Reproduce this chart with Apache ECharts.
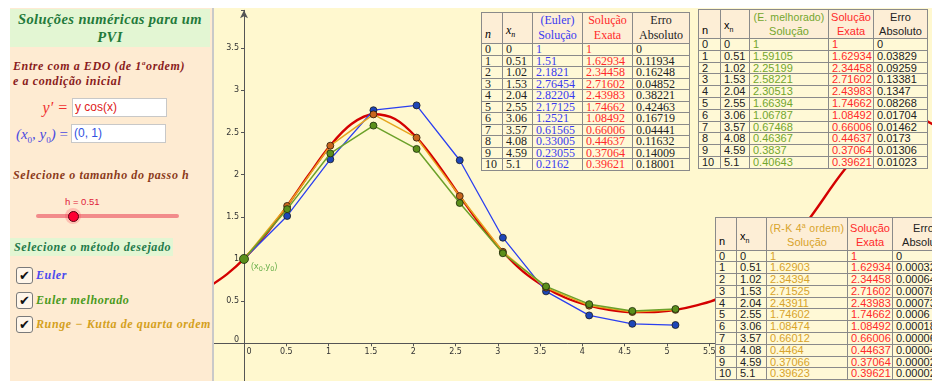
<!DOCTYPE html>
<html>
<head>
<meta charset="utf-8">
<script src="https://cdn.jsdelivr.net/npm/echarts@6/dist/echarts.min.js"></script>
<style>
  body { margin: 0; width: 932px; height: 381px; overflow: hidden; position: relative; background: #fff; }
  #chart { position: absolute; left: 0; top: 0; width: 932px; height: 381px; }
  .abs { position: absolute; white-space: nowrap; }
  .serif { font-family: 'Liberation Serif', 'DejaVu Serif', serif; }
  .sans { font-family: 'Liberation Sans', Arial, sans-serif; }
  .bi { font-weight: bold; font-style: italic; }
  .box { position: absolute; background: #fff; border: 1px solid #c8c8c8; box-sizing: border-box;
         font-family: 'Liberation Sans', Arial, sans-serif; font-size: 12px; line-height: 17px; padding-left: 2px; }
  .chk { position: absolute; left: 16px; width: 17px; height: 17px; box-sizing: border-box; border: 1.5px solid #7a7a7a;
         border-radius: 3px; background: #fff6ea; font-family: 'DejaVu Sans', sans-serif; font-size: 13px; line-height: 15px;
         text-align: center; color: #111; font-weight: bold; }
  table.tb { position: absolute; border-collapse: collapse; table-layout: fixed; background: #fff9d6; }
  table.tb td { border: 1px solid #8a8a8a; padding: 0 0 0 3px; white-space: nowrap; overflow: hidden; box-sizing: border-box; }
  table.tb tr.hd td { background: #fdeed6; vertical-align: bottom; }
  table.tb td.c { text-align: center; padding: 0; }
</style>
</head>
<body>
<div id="chart"></div>

<!-- painel esquerdo -->
<div class="abs" style="left:0;top:0;width:10px;height:381px;background:#fff;"></div>
<div class="abs" style="left:0;top:0;width:932px;height:8px;background:#fff;"></div>
<div class="abs" style="left:10px;top:8px;width:202px;height:373px;background:#feebd2;"></div>
<div class="abs" style="left:212px;top:8px;width:2px;height:373px;background:#c9c9c9;"></div>

<div class="abs serif bi" style="left:10px;top:9px;width:200px;height:38px;background:#e3f6d3;color:#237a3b;font-size:14.5px;line-height:18px;text-align:center;padding-top:1px;box-sizing:border-box;letter-spacing:0.4px;">Soluções numéricas para um<br>PVI</div>

<div class="abs serif bi" style="left:13px;top:56px;color:#8a1c1c;font-size:12px;line-height:15px;letter-spacing:0.6px;">Entre com a EDO (de 1<sup style="font-size:7px;">a</sup>ordem)<br>e a condição inicial</div>

<div class="abs serif" style="left:0;top:99px;width:68px;text-align:right;color:#f03030;font-size:16px;font-style:italic;">y′ =</div>
<div class="box" style="left:72px;top:98px;width:95px;height:19px;color:#e02020;">y cos(x)</div>
<div class="abs serif" style="left:0;top:126px;width:68px;text-align:right;color:#4a4ae0;font-size:15px;"><i>(x</i><sub style="font-size:9px;">0</sub><i>, y</i><sub style="font-size:9px;">0</sub><i>)</i> =</div>
<div class="box" style="left:71px;top:124px;width:95px;height:19px;color:#3050e0;">(0, 1)</div>

<div class="abs serif bi" style="left:13px;top:168px;color:#8b3a1a;font-size:12px;letter-spacing:0.6px;">Selecione o tamanho do passo h</div>
<div class="abs sans" style="left:65px;top:196px;color:#e0203a;font-size:9.5px;">h = 0.51</div>
<div class="abs" style="left:36px;top:214px;width:143px;height:3.5px;background:#f28b8b;border-radius:2px;"></div>
<div class="abs" style="left:65px;top:208px;width:16px;height:16px;border-radius:8px;background:rgba(255,60,80,0.25);"></div>
<div class="abs" style="left:67.5px;top:210.5px;width:11px;height:11px;box-sizing:border-box;border-radius:6px;background:#ff0033;border:1px solid #5a0010;"></div>

<div class="abs serif bi" style="left:10px;top:238px;width:163px;height:18px;background:#e3f6d3;color:#1f7a4a;font-size:12px;line-height:18px;padding-left:4px;box-sizing:border-box;letter-spacing:0.6px;">Selecione o método desejado</div>

<div class="chk" style="top:267px;">✔</div>
<div class="chk" style="top:292px;">✔</div>
<div class="chk" style="top:316px;">✔</div>
<div class="abs serif bi" style="left:36px;top:268px;color:#4a4aee;font-size:12px;letter-spacing:0.6px;">Euler</div>
<div class="abs serif bi" style="left:36px;top:293px;color:#4a9a20;font-size:12px;letter-spacing:0.6px;">Euler melhorado</div>
<div class="abs serif bi" style="left:36px;top:317px;width:176px;overflow:hidden;color:#d4a020;font-size:12px;letter-spacing:0.6px;">Runge − Kutta de quarta ordem</div>

<div id="tabelas"></div>

<script>
// passos x_n
const xs = [0, 0.51, 1.02, 1.53, 2.04, 2.55, 3.06, 3.57, 4.08, 4.59, 5.1];
// soluções numéricas
const euler = [1, 1.51, 2.1821, 2.76454, 2.82204, 2.17125, 1.2521, 0.61565, 0.33005, 0.23055, 0.2162];
const eulerMelhorado = [1, 1.59105, 2.25199, 2.58221, 2.30513, 1.66394, 1.06787, 0.67468, 0.46367, 0.3837, 0.40643];
const rungeKutta = [1, 1.62903, 2.34394, 2.71525, 2.43911, 1.74602, 1.08474, 0.66012, 0.4464, 0.37066, 0.39623];
const exata = [1, 1.62934, 2.34458, 2.71602, 2.43983, 1.74662, 1.08492, 0.66006, 0.44637, 0.37064, 0.39621];
// erros absolutos
const erroEuler = [0, 0.11934, 0.16248, 0.04852, 0.38221, 0.42463, 0.16719, 0.04441, 0.11632, 0.14009, 0.18001];
const erroMelhorado = [0, 0.03829, 0.09259, 0.13381, 0.1347, 0.08268, 0.01704, 0.01462, 0.0173, 0.01306, 0.01023];
const erroRK = [0, 0.00032, 0.00064, 0.00078, 0.00073, 0.0006, 0.00018, 0.00006, 0.00004, 0.00002, 0.00002];
const curvaX = [-0.4, -0.2, 0.25, 0.76, 1.27, 1.785, 2.3, 2.8, 3.3, 3.8, 4.3, 4.85, 5.35, 5.6, 6.1, 6.6, 7.1, 7.6, 7.85, 8.2];
const curvaY = [0.68, 0.82, 1.28, 1.99, 2.6, 2.66, 2.11, 1.4, 0.85, 0.54, 0.4, 0.37, 0.45, 0.53, 0.83, 1.37, 2.06, 2.62, 2.71, 2.56];

const pares = (a, b) => a.map((x, i) => [x, b[i]]);
const curva = pares(xs, exata).concat(pares(curvaX, curvaY)).sort((p, q) => p[0] - q[0]);

const chart = echarts.init(document.getElementById('chart'));
const meio = v => Math.abs(v * 2 - Math.round(v * 2)) < 1e-6;

chart.setOption({
  animation: false,
  backgroundColor: '#fff8cf',
  grid: { left: 201.7, top: 10.3, width: 761.4, height: 375.1, outerBoundsMode: 'none' },
  xAxis: {
    type: 'value', min: -0.5, max: 8.5, interval: 0.5, offset: -42.1,
    axisLine: { onZero: false, symbol: ['none', 'arrow'], symbolSize: [6, 8], lineStyle: { color: '#555', width: 1 } },
    axisTick: { length: 3, lineStyle: { color: '#555' } },
    splitLine: { show: false },
    axisLabel: {
      fontSize: 8, color: '#333', margin: 5, fontFamily: 'DejaVu Sans',
      formatter: v => (!meio(v) || v < 0) ? '' : (v === 0 ? '{z|0}' : String(v)),
      rich: { z: { fontSize: 8, color: '#333', padding: [0, 0, 0, 10] } }
    }
  },
  yAxis: {
    type: 'value', min: -0.5, max: 3.95, interval: 0.5, offset: -42.3,
    axisLine: { onZero: false, symbol: ['none', 'arrow'], symbolSize: [6, 8], lineStyle: { color: '#555', width: 1 } },
    axisTick: { length: 3, lineStyle: { color: '#555' } },
    splitLine: { show: false },
    axisLabel: {
      fontSize: 8, color: '#333', margin: 5, fontFamily: 'DejaVu Sans',
      formatter: v => (!meio(v) || v < 0) ? '' : (v === 0 ? '{z|0}' : String(v)),
      rich: { z: { fontSize: 8, color: '#333', padding: [0, 0, 6, 0] } }
    }
  },
  series: [
    {
      name: 'Solução exata', type: 'line', data: curva, showSymbol: false, smooth: 0.35,
      lineStyle: { color: '#d40000', width: 2.4 }, z: 2
    },
    {
      name: 'Euler', type: 'line', data: pares(xs, euler), symbol: 'circle', symbolSize: 7,
      lineStyle: { color: '#2b3ff0', width: 1.3 },
      itemStyle: { color: '#1d46b8', borderColor: '#1a1a1a', borderWidth: 0.8 }, z: 3
    },
    {
      name: 'Runge-Kutta', type: 'line', data: pares(xs, rungeKutta), symbol: 'circle', symbolSize: 7,
      lineStyle: { color: '#e6a51e', width: 1.5 },
      itemStyle: { color: '#c8661e', borderColor: '#2a1a0a', borderWidth: 0.8 }, z: 4
    },
    {
      name: 'Euler melhorado', type: 'line', symbol: 'circle', symbolSize: 7,
      data: pares(xs, eulerMelhorado).map((p, i) => i === 0 ? {
        value: p, symbolSize: 9,
        label: {
          show: true, position: 'right', distance: 2, offset: [0, 8],
          formatter: '({a|x}{s|0},{a|y}{s|0})',
          rich: { a: { fontSize: 8.5, color: '#6ab04c', fontFamily: 'DejaVu Sans' },
                  s: { fontSize: 6.5, color: '#6ab04c', padding: [4, 0, 0, 0], fontFamily: 'DejaVu Sans' } },
          color: '#6ab04c', fontSize: 8.5
        }
      } : p),
      lineStyle: { color: '#6ca12a', width: 1.5 },
      itemStyle: { color: '#5b8f1b', borderColor: '#1a2a0a', borderWidth: 0.8 }, z: 5
    }
  ]
});

// tabelas
function tabela(cfg) {
  const fam = cfg.serif ? "'Liberation Serif', serif" : "'Liberation Sans', Arial, sans-serif";
  let h = `<table class="tb" style="left:${cfg.left}px;top:${cfg.top}px;font-family:${fam};font-size:${cfg.fs}px;width:${cfg.w.reduce((a, b) => a + b, 0)}px;">`;
  h += '<colgroup>' + cfg.w.map(w => `<col style="width:${w}px">`).join('') + '</colgroup>';
  h += `<tr class="hd" style="height:${cfg.hh}px;line-height:${cfg.hh / 2 - 0.5}px;">`;
  h += `<td style="padding-bottom:1px;">${cfg.serif ? '<i>n</i>' : 'n'}</td>`;
  h += `<td style="padding-bottom:1px;">${cfg.serif ? '<i>x<sub style="font-size:8px">n</sub></i>' : 'x<sub style="font-size:7px">n</sub>'}</td>`;
  h += `<td class="c" style="color:${cfg.cor};"><span style="font-size:${cfg.tfs}px;letter-spacing:${cfg.ls}px;">${cfg.titulo}</span><br>Solução</td>`;
  h += `<td class="c" style="color:#ff2a2a;">Solução<br>Exata</td>`;
  h += `<td class="c" style="color:#222;">Erro<br>Absoluto</td></tr>`;
  for (let i = 0; i < xs.length; i++) {
    h += `<tr style="height:${cfg.rh}px;line-height:${cfg.rh - 1}px;">`;
    h += `<td style="color:#222">${i}</td><td style="color:#222">${xs[i]}</td>`;
    h += `<td style="color:${cfg.cor}">${cfg.sol[i]}</td><td style="color:#ff2a2a">${exata[i]}</td><td style="color:#222">${cfg.erro[i]}</td></tr>`;
  }
  return h + '</table>';
}

document.getElementById('tabelas').innerHTML =
  tabela({ left: 481, top: 12, w: [21, 30, 50, 50, 57], hh: 31, rh: 11.5, fs: 12, tfs: 12, serif: true, ls: 0,
           cor: '#3a3af0', titulo: '(Euler)', sol: euler, erro: erroEuler }) +
  tabela({ left: 698, top: 9, w: [22, 29, 79, 45, 54], hh: 29, rh: 11.8, fs: 11, tfs: 10.5, serif: false, ls: 0.1,
           cor: '#73a62d', titulo: '(E. melhorado)', sol: eulerMelhorado, erro: erroMelhorado }) +
  tabela({ left: 715, top: 217, w: [21, 30, 81, 45, 62], hh: 30, rh: 11.8, fs: 11, tfs: 10.5, serif: false, ls: 0.3,
           cor: '#d8a32a', titulo: '(R-K 4<sup style="font-size:7px">a</sup> ordem)', sol: rungeKutta, erro: erroRK });
</script>
</body>
</html>
